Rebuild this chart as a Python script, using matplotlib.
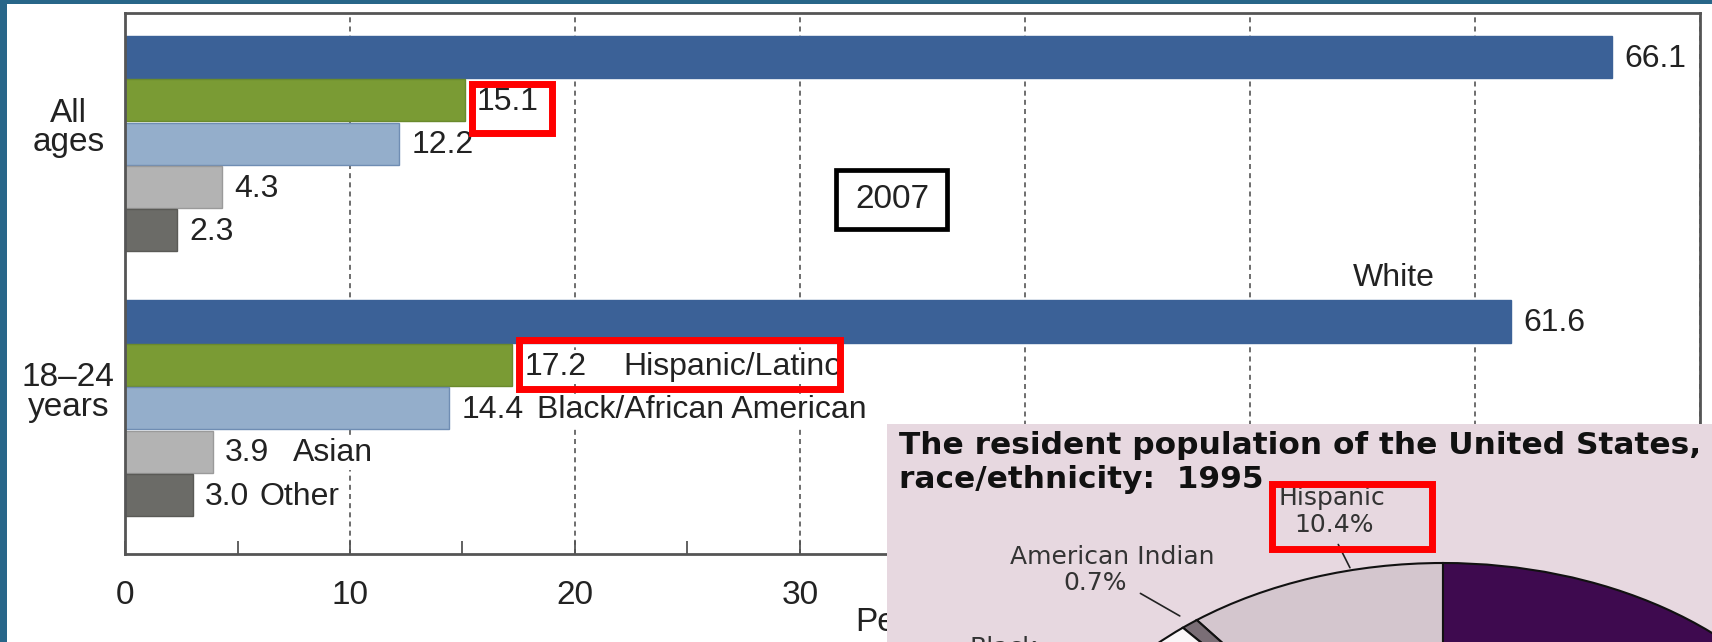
import numpy as np
import matplotlib
matplotlib.use("Agg")
import matplotlib.pyplot as plt
import matplotlib.transforms as mtransforms
from matplotlib.patches import Rectangle

W, H = 1712, 642
FONT = ["Liberation Sans Narrow", "Liberation Sans", "DejaVu Sans"]
FS = 23

# bar chart data (percent of population)
group_labels = ["All\nages", "18–24\nyears"]
race_names = ["White", "Hispanic/Latino", "Black/African American", "Asian", "Other"]
all_ages = [66.1, 15.1, 12.2, 4.3, 2.3]
ages_18_24 = [61.6, 17.2, 14.4, 3.9, 3.0]
x_ticks = [0, 10, 20, 30, 40, 50, 60, 70]

bar_colors = ["#3b6197", "#7a9b34", "#94aecb", "#b3b3b3", "#6b6b67"]
edge_colors = ["#3b6197", "#6a8a2c", "#6f8db3", "#9a9a9a", "#5a5a56"]

# inset pie (resident population by race/ethnicity, 1995)
pie_names = ["Hispanic", "American Indian", "Black", "Asian", "White"]
pie_shares = [10.4, 0.7, 12.0, 3.3, 73.6]
pie_colors = ["#d4c6ce", "#7a6e76", "#faf6f8", "#9c84a6", "#3e0a4f"]

group_start = [0.0, 6.1]
name_x = [None, 22.13, 18.31, 7.47, 5.96]   # where the race name sits in the 18-24 group


def fx(x):
    return x / W


def fy(y):
    return 1 - y / H


def px_box(fig, x0, y0, x1, y1, **kw):
    r = Rectangle((fx(x0), fy(y1)), (x1 - x0) / W, (y1 - y0) / H,
                  transform=fig.transFigure, **kw)
    fig.patches.append(r)
    return r


fig = plt.figure(figsize=(W / 100, H / 100), dpi=100, facecolor="#286689")
px_box(fig, 7, 4, W + 5, H + 5, facecolor="white", edgecolor="none", zorder=-10)

ax = fig.add_axes([fx(125), fy(554), 1575 / W, 541 / H])
ax.set_xlim(0, 70)
ax.set_ylim(11.46, -1.01)
ax.set_axisbelow(True)
ax.grid(axis="x", linestyle=(0, (3, 2.5)), color="#555555", linewidth=1.2)
for s in ax.spines.values():
    s.set_color("#555555")
    s.set_linewidth(2)

for g, vals in enumerate([all_ages, ages_18_24]):
    ys = group_start[g] + np.arange(len(vals))
    ax.barh(ys, vals, height=0.97, color=bar_colors, edgecolor=edge_colors,
            linewidth=1, zorder=2)
    for i, (y, v) in enumerate(zip(ys, vals)):
        ax.text(v + 0.55, y + 0.04, f"{v:.1f}", ha="left", va="center", fontsize=FS,
                family=FONT, color="#222222", zorder=3,
                bbox=dict(facecolor="white", edgecolor="none", pad=1))
        if g == 1 and name_x[i] is not None:
            ax.text(name_x[i], y + 0.04, race_names[i], ha="left", va="center",
                    fontsize=FS, family=FONT, color="#222222", zorder=3,
                    bbox=dict(facecolor="white", edgecolor="none", pad=1))
    if g == 1:
        ax.text(56.4, ys[0] - 1.01, race_names[0], ha="center", va="center",
                fontsize=FS, family=FONT, color="#222222", zorder=3)

lab_tr = mtransforms.blended_transform_factory(ax.transAxes, ax.transData)
for g, lab in enumerate(group_labels):
    ax.text(-0.036, group_start[g] + 1.64, lab, transform=lab_tr, ha="center",
            va="center", fontsize=FS + 1, family=FONT, linespacing=0.95,
            color="#222222")

ax.set_yticks([])
ax.set_xticks(x_ticks)
ax.set_xticklabels([str(t) if t < 70 else "" for t in x_ticks], family=FONT)
ax.set_xticks(np.arange(5, 70, 10), minor=True)
ax.tick_params(axis="x", which="both", direction="in", length=9.4, width=1.3,
               color="#555555", labelsize=FS + 1, pad=19, labelcolor="#222222")
ax.set_xlabel("Percent", fontsize=FS + 1, family=FONT, color="#222222", labelpad=-3)

# year box
px_box(fig, 836, 170, 947, 229, fill=False, edgecolor="black", linewidth=3.4, zorder=5)
fig.text(fx(892), fy(199), "2007", ha="center", va="center", fontsize=FS + 1,
         family=FONT, color="#222222", zorder=5)

# inset pie picture
iax = fig.add_axes([fx(887), 0, (W - 887) / W, (H - 424) / H], zorder=4)
iax.pie(pie_shares, colors=pie_colors, startangle=90, counterclock=True,
        wedgeprops=dict(edgecolor="#111111", linewidth=1.5))
cx, cy, rx, ry = 1443, 840, 405, 277
iax.set_xlim((887 - cx) / rx, (W - cx) / rx)
iax.set_ylim((cy - H) / ry, (cy - 424) / ry)
iax.set_aspect("auto")
iax.set_frame_on(True)
iax.set_facecolor("#e7d8e0")
for s in iax.spines.values():
    s.set_visible(False)
iax.set_xticks([])
iax.set_yticks([])

fig.text(fx(899), fy(445), "The resident population of the United States,",
         ha="left", va="center", fontsize=22.5, fontweight="bold",
         family="DejaVu Sans", color="#111111", zorder=6)
fig.text(fx(899), fy(479), "race/ethnicity:  1995", ha="left", va="center",
         fontsize=22.5, fontweight="bold", family="DejaVu Sans", color="#111111",
         zorder=6)

angles = 90 + 360 * np.concatenate([[0], np.cumsum(pie_shares)]) / 100
tcol = "#333333"
fig.text(fx(1332), fy(498), pie_names[0], ha="center", va="center", fontsize=18,
         family="DejaVu Sans", color=tcol, zorder=6)
fig.text(fx(1334), fy(525), f"{pie_shares[0]}%", ha="center", va="center",
         fontsize=18, family="DejaVu Sans", color=tcol, zorder=6)
fig.text(fx(1112), fy(557), pie_names[1], ha="center", va="center", fontsize=18,
         family="DejaVu Sans", color=tcol, zorder=6)
fig.text(fx(1095), fy(583), f"{pie_shares[1]}%", ha="center", va="center",
         fontsize=18, family="DejaVu Sans", color=tcol, zorder=6)
fig.text(fx(1003), fy(636), pie_names[2], ha="center", va="top", fontsize=18,
         family="DejaVu Sans", color=tcol, zorder=6)

# leader lines
a_his = np.radians(angles[0] + 0.35 * (angles[1] - angles[0]))
a_ind = np.radians((angles[1] + angles[2]) / 2)
iax.annotate("", xy=(np.cos(a_his), np.sin(a_his)), xytext=(1337, H - 542),
             textcoords="figure pixels",
             arrowprops=dict(arrowstyle="-", color="#222222", lw=1.2))
iax.annotate("", xy=(1.03 * np.cos(a_ind), 1.03 * np.sin(a_ind)),
             xytext=(1138, H - 592), textcoords="figure pixels",
             arrowprops=dict(arrowstyle="-", color="#222222", lw=1.2))

# red highlight boxes
red = dict(fill=False, edgecolor="#ff0000", linewidth=5, zorder=7)
px_box(fig, 471.5, 83.5, 551.5, 132.5, **red)
px_box(fig, 518.5, 339.5, 839.5, 388.5, **red)
px_box(fig, 1271.5, 483.5, 1431.5, 548.5, **red)

fig.savefig("out.png", dpi=100, facecolor=fig.get_facecolor())
